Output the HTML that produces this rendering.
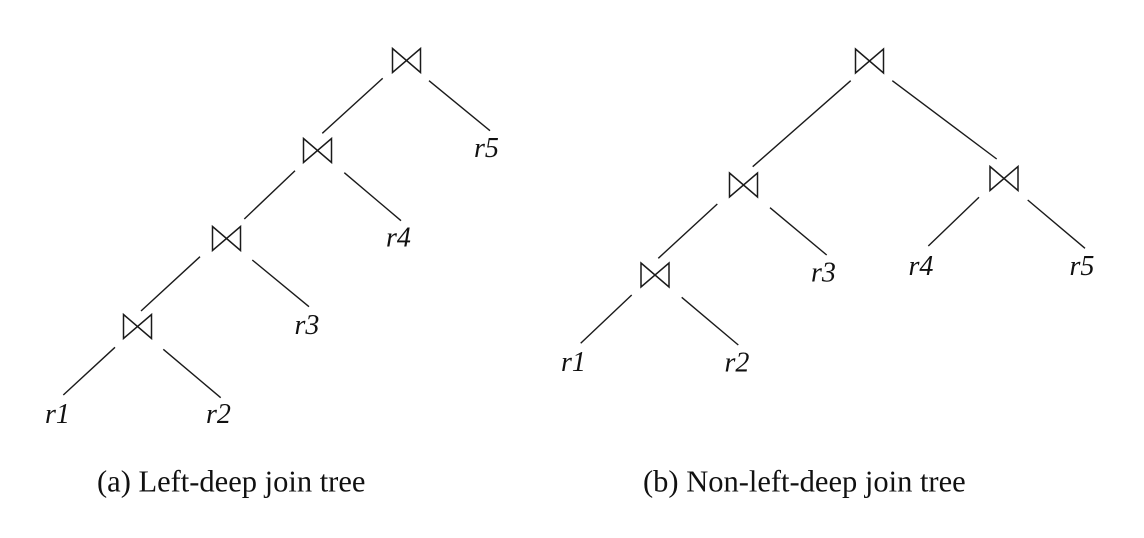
<!DOCTYPE html>
<html>
<head>
<meta charset="utf-8">
<style>
html,body{margin:0;padding:0;background:#fff;}
svg{display:block;}
.l{stroke:#1a1a1a;stroke-width:1.4;fill:none;stroke-linecap:butt;}
.b{stroke:#1a1a1a;stroke-width:1.5;fill:none;stroke-linejoin:miter;}
.t{font-family:"Liberation Serif",serif;font-style:italic;font-size:28px;fill:#111;}
.c{font-family:"Liberation Serif",serif;font-size:30.5px;fill:#111;}
</style>
</head>
<body>
<svg width="1144" height="538" viewBox="0 0 1144 538" xmlns="http://www.w3.org/2000/svg">
<!-- Left tree bowties -->
<path class="b" d="M392.5 48.5 L420.5 72.5 L420.5 48.5 L392.5 72.5 Z"/>
<path class="b" d="M303.5 138.5 L331.5 162.5 L331.5 138.5 L303.5 162.5 Z"/>
<path class="b" d="M212.5 226.5 L240.5 250.5 L240.5 226.5 L212.5 250.5 Z"/>
<path class="b" d="M123.5 314.5 L151.5 338.5 L151.5 314.5 L123.5 338.5 Z"/>
<!-- Left tree lines -->
<line class="l" x1="382.7" y1="78.3" x2="322.3" y2="133.3"/>
<line class="l" x1="429" y1="80.7" x2="490" y2="130.7"/>
<line class="l" x1="295" y1="170.7" x2="244.3" y2="219"/>
<line class="l" x1="344.3" y1="172.7" x2="401" y2="220.7"/>
<line class="l" x1="200" y1="256.7" x2="141" y2="311"/>
<line class="l" x1="252.3" y1="260" x2="309" y2="306.7"/>
<line class="l" x1="115" y1="347.3" x2="63.3" y2="395"/>
<line class="l" x1="163.3" y1="349.3" x2="220.7" y2="397.7"/>
<!-- Left labels -->
<text class="t" x="474" y="157">r5</text>
<text class="t" x="386" y="246.5">r4</text>
<text class="t" x="294.5" y="334">r3</text>
<text class="t" x="45" y="423">r1</text>
<text class="t" x="206" y="423">r2</text>

<!-- Right tree bowties -->
<path class="b" d="M855.5 49 L883.5 73 L883.5 49 L855.5 73 Z"/>
<path class="b" d="M729.5 173 L757.5 197 L757.5 173 L729.5 197 Z"/>
<path class="b" d="M990 166.5 L1018 190.5 L1018 166.5 L990 190.5 Z"/>
<path class="b" d="M641 263 L669 287 L669 263 L641 287 Z"/>
<!-- Right tree lines -->
<line class="l" x1="850.7" y1="80.7" x2="752.7" y2="166.7"/>
<line class="l" x1="892.3" y1="80.7" x2="996.7" y2="159"/>
<line class="l" x1="717.3" y1="204" x2="658.3" y2="258.3"/>
<line class="l" x1="770" y1="207.7" x2="826.7" y2="255"/>
<line class="l" x1="979" y1="197.3" x2="928.3" y2="246"/>
<line class="l" x1="1027.7" y1="200" x2="1085" y2="248.3"/>
<line class="l" x1="631.7" y1="295" x2="580.7" y2="343.3"/>
<line class="l" x1="681.7" y1="297.3" x2="738.3" y2="345"/>
<!-- Right labels -->
<text class="t" x="811" y="281.5">r3</text>
<text class="t" x="908.5" y="275">r4</text>
<text class="t" x="1069.5" y="275">r5</text>
<text class="t" x="561" y="371">r1</text>
<text class="t" x="724.5" y="371.5">r2</text>

<!-- Captions -->
<text class="c" x="97" y="491.5">(a) Left-deep join tree</text>
<text class="c" x="643" y="491.5">(b) Non-left-deep join tree</text>
</svg>
</body>
</html>
